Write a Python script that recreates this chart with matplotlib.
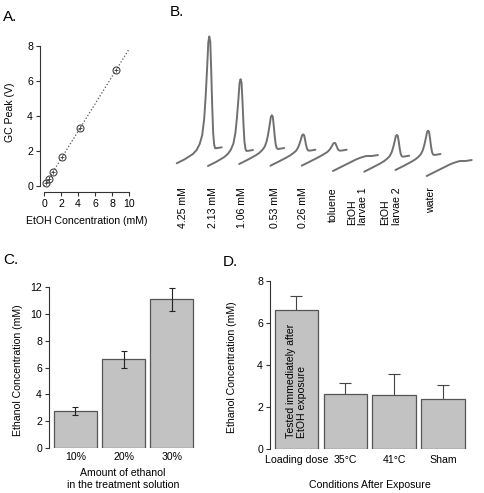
import numpy as np
import matplotlib
matplotlib.use('Agg')
import matplotlib.pyplot as plt

plt.rcParams['font.family'] = ['Liberation Sans', 'DejaVu Sans']
plt.rcParams['font.size'] = 7.6

# Panel A: GC calibration
conc_mM = [0.26, 0.53, 1.06, 2.13, 4.25, 8.5]
gc_peak_V = [0.17, 0.42, 0.80, 1.65, 3.30, 6.65]

# Panel B: chromatogram traces (peak heights above baseline, px-scale)
trace_labels = ['4.25 mM', '2.13 mM', '1.06 mM', '0.53 mM', '0.26 mM', 'toluene',
                'EtOH\nlarvae 1', 'EtOH\nlarvae 2', 'water']
peak_heights = [112, 72, 34, 16.5, 8, 0, 22, 24.5, 0]
trace_base = [163.3, 166, 164, 165.7, 165.7, 171, 171.7, 170, 176]
label_x = [183.3, 213.3, 241.7, 275, 303.3, 333.3, 357.5, 391, 430.7]
# normalised peak profile
prof_dx = [0, 8, 16, 20, 23, 25.5, 27.5, 29, 30.5, 31.6, 32.6, 33.6, 34.5, 35.5, 36.5, 37.5, 38.5, 41, 45]
prof_rise = [0, 4, 8, 10, 11.5, 12.5, 13.3, 13.8, 14.2, 14.6, 14.8, 15, 15, 15, 15, 15, 15, 15.3, 16]
prof_peak = [0, 0, 0.01, 0.03, 0.07, 0.14, 0.28, 0.48, 0.74, 0.95, 1.0, 0.95, 0.7, 0.38, 0.13, 0.03, 0, 0, 0]

# Panel C
c_cats = ['10%', '20%', '30%']
c_vals = [2.8, 6.6, 11.05]
c_err = [0.3, 0.65, 0.83]

# Panel D
d_cats = ['Loading dose', '35°C', '41°C', 'Sham']
d_vals = [6.61, 2.61, 2.56, 2.37]
d_err = [0.68, 0.52, 1.0, 0.67]

W, H = 484, 493
fig = plt.figure(figsize=(W / 100, H / 100), dpi=100)


def rect(l, t, r, b):
    return [l / W, 1 - b / H, (r - l) / W, (b - t) / H]


line_col = '#333333'
bar_face = '#c2c2c2'
bar_edge = '#555555'


def style(ax):
    for s in ['top', 'right']:
        ax.spines[s].set_visible(False)
    for s in ['left', 'bottom']:
        ax.spines[s].set_color(line_col)
        ax.spines[s].set_linewidth(0.8)
    ax.tick_params(colors=line_col, labelcolor='black', width=0.8, length=3, pad=2)


# ---- A ----
axA = fig.add_axes(rect(44, 46, 129, 186))
style(axA)
axA.spines['left'].set_position(('outward', 3))
axA.spines['bottom'].set_position(('outward', 4.3))
axA.set_xlim(0, 10)
axA.set_ylim(0, 8)
axA.set_xticks(range(0, 11, 2))
axA.set_yticks(range(0, 9, 2))
k, b0 = np.polyfit(conc_mM, gc_peak_V, 1)
xx = np.array([0, 10])
axA.plot(xx, k * xx + b0, ls=':', color='#555555', lw=0.9, clip_on=False)
axA.plot(conc_mM, gc_peak_V, 'o', mfc='none', mec='#444444', ms=5, mew=0.8, clip_on=False)
axA.plot(conc_mM, gc_peak_V, '+', color='#444444', ms=2.5, mew=0.6, clip_on=False)
axA.set_xlabel('EtOH Concentration (mM)', va='center')
axA.xaxis.set_label_coords(86.5 / W, 1 - 221 / H, transform=fig.transFigure)
axA.set_ylabel('GC Peak (V)', va='center')
axA.yaxis.set_label_coords(10 / W, 1 - 112 / H, transform=fig.transFigure)

# ---- B ----
axB = fig.add_axes(rect(160, 0, 484, 240))
axB.set_xlim(160, 484)
axB.set_ylim(240, 0)
axB.axis('off')
dx = np.array(prof_dx)
rise = np.array(prof_rise)
pk = np.array(prof_peak)
for i, (h, y0) in enumerate(zip(peak_heights, trace_base)):
    x0 = 176.7 + i * 31.25
    axB.plot(x0 + dx, y0 - rise - h * pk, color='#707070', lw=1.4,
             solid_capstyle='round', solid_joinstyle='round')
for lx, lab in zip(label_x, trace_labels):
    axB.text(lx, 187, lab, rotation=90, ha='center', va='top', multialignment='left')

# ---- C ----
axC = fig.add_axes(rect(49, 286.7, 195.8, 448.3))
style(axC)
axC.spines['bottom'].set_visible(False)
xc = np.arange(len(c_cats))
axC.bar(xc, c_vals, width=0.885, color=bar_face, edgecolor=bar_edge, linewidth=0.9)
axC.errorbar(xc, c_vals, yerr=c_err, fmt='none', ecolor='#222222', elinewidth=0.8,
             capsize=2.2, capthick=0.8)
axC.set_xlim(-0.546, 2.5)
axC.set_ylim(0, 12)
axC.set_yticks(range(0, 13, 2))
axC.set_xticks(xc)
axC.set_xticklabels(c_cats)
axC.tick_params(axis='x', length=0, pad=3)
axC.set_xlabel('Amount of ethanol\nin the treatment solution', va='center')
axC.xaxis.set_label_coords(123 / W, 1 - 479 / H, transform=fig.transFigure)
axC.set_ylabel('Ethanol Concentration (mM)', va='center')
axC.yaxis.set_label_coords(18 / W, 1 - 370 / H, transform=fig.transFigure)

# ---- D ----
axD = fig.add_axes(rect(270, 280.7, 467.5, 449.3))
style(axD)
axD.spines['bottom'].set_visible(False)
xd = np.arange(len(d_cats))
axD.errorbar(xd, d_vals, yerr=d_err, fmt='none', ecolor='#444444', elinewidth=0.8,
             capsize=4.3, capthick=0.8, zorder=1)
axD.bar(xd, d_vals, width=0.885, color=bar_face, edgecolor=bar_edge, linewidth=0.9, zorder=2)
axD.set_xlim(-0.538, 3.5)
axD.set_ylim(0, 8)
axD.set_yticks(range(0, 9, 2))
axD.set_xticks(xd)
axD.set_xticklabels(d_cats)
axD.tick_params(axis='x', length=0, pad=4)
axD.text(0, 0.54, 'Tested immediately after\nEtOH exposure', rotation=90,
         ha='center', va='bottom', multialignment='left', zorder=3)
axD.set_xlabel('Conditions After Exposure', va='center')
axD.xaxis.set_label_coords(370 / W, 1 - 485 / H, transform=fig.transFigure)
axD.set_ylabel('Ethanol Concentration (mM)', va='center')
axD.yaxis.set_label_coords(231.7 / W, 1 - 366.7 / H, transform=fig.transFigure)

# panel letters
for lab, x, y in [('A.', 3, 10), ('B.', 170, 5), ('C.', 3, 253), ('D.', 223, 255)]:
    fig.text(x / W, 1 - y / H, lab, fontsize=11, ha='left', va='top')

fig.savefig('out.png', dpi=100)
